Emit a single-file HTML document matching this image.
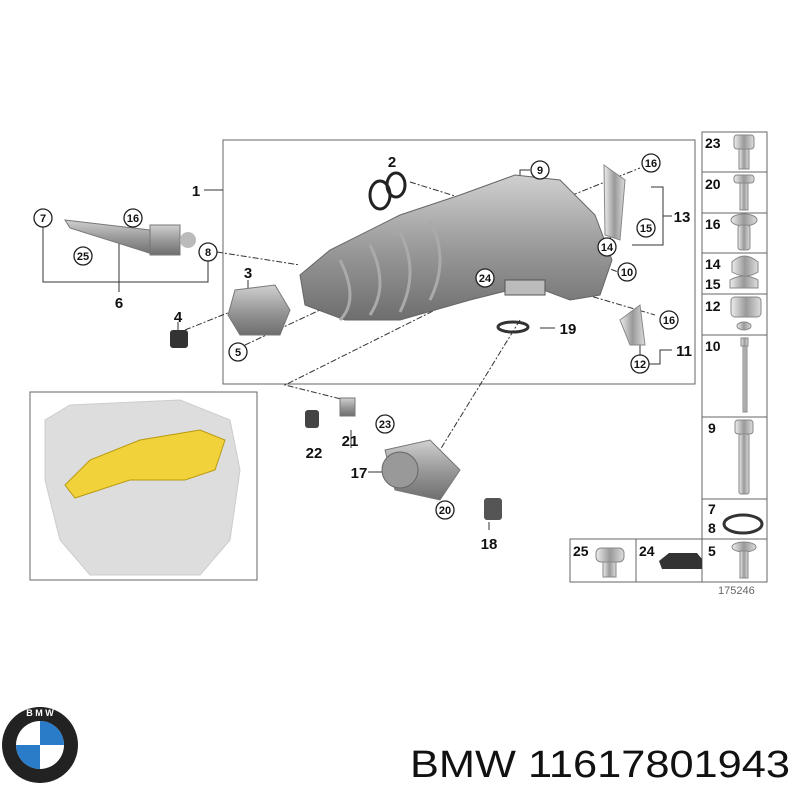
<!DOCTYPE html>
<html><head><style>
html,body{margin:0;padding:0;background:#fff;}
svg{display:block;font-family:"Liberation Sans",Arial,sans-serif;}
.b{font-weight:bold;font-size:15px;fill:#111;}
.c{font-size:11px;font-weight:bold;fill:#111;}
.t{font-weight:bold;font-size:14px;fill:#111;}
</style></head><body>
<svg width="800" height="800" viewBox="0 0 800 800" xmlns="http://www.w3.org/2000/svg">
<defs>
<linearGradient id="g" x1="0" y1="0" x2="0" y2="1"><stop offset="0" stop-color="#d0d0d0"/><stop offset="0.5" stop-color="#9a9a9a"/><stop offset="1" stop-color="#6e6e6e"/></linearGradient>
<linearGradient id="m" x1="0" y1="0" x2="1" y2="0"><stop offset="0" stop-color="#eee"/><stop offset="0.5" stop-color="#999"/><stop offset="1" stop-color="#ddd"/></linearGradient>
</defs>
<g fill="none" stroke="#666" stroke-width="1">
<rect x="223" y="140" width="472" height="244"/>
<rect x="30" y="392" width="227" height="188"/>
<rect x="702" y="132" width="65" height="450"/>
<line x1="702" y1="172" x2="767" y2="172"/><line x1="702" y1="213" x2="767" y2="213"/>
<line x1="702" y1="253" x2="767" y2="253"/><line x1="702" y1="294" x2="767" y2="294"/>
<line x1="702" y1="335" x2="767" y2="335"/><line x1="702" y1="417" x2="767" y2="417"/>
<line x1="702" y1="499" x2="767" y2="499"/><line x1="702" y1="539" x2="767" y2="539"/>
<rect x="570" y="539" width="132" height="43"/><line x1="636" y1="539" x2="636" y2="582"/>
</g>
<text x="705" y="148" class="t">23</text><text x="705" y="189" class="t">20</text><text x="705" y="229" class="t">16</text>
<text x="705" y="269" class="t">14</text><text x="705" y="289" class="t">15</text><text x="705" y="311" class="t">12</text>
<text x="705" y="351" class="t">10</text><text x="708" y="433" class="t">9</text><text x="708" y="514" class="t">7</text>
<text x="708" y="533" class="t">8</text><text x="708" y="556" class="t">5</text><text x="573" y="556" class="t">25</text><text x="639" y="556" class="t">24</text>
<g fill="url(#m)" stroke="#888">
<rect x="734" y="135" width="20" height="14" rx="3"/><rect x="739" y="149" width="10" height="20"/>
<rect x="734" y="175" width="20" height="8" rx="3"/><rect x="740" y="183" width="8" height="27"/>
<ellipse cx="744" cy="220" rx="13" ry="6"/><rect x="738" y="225" width="12" height="25" rx="3"/>
<path d="M732 262 q12-12 26 0 v10 q-12 8-26 0z"/><path d="M730 280 q14-8 28 0 v8 h-28z"/>
<rect x="731" y="297" width="30" height="20" rx="4"/><ellipse cx="744" cy="326" rx="7" ry="4"/>
<rect x="741" y="338" width="7" height="8"/><rect x="743" y="346" width="4" height="66"/>
<rect x="735" y="420" width="18" height="14" rx="3"/><rect x="739" y="434" width="10" height="60" rx="2"/>
<rect x="596" y="548" width="28" height="14" rx="5"/><rect x="603" y="562" width="13" height="15"/>
<ellipse cx="744" cy="547" rx="12" ry="5"/><rect x="740" y="551" width="8" height="27"/>
</g>
<ellipse cx="743" cy="524" rx="19" ry="9" fill="none" stroke="#333" stroke-width="3"/>
<path d="M659 561 l10-8 h28 l5 6 v10 h-40z" fill="#333"/>
<text x="718" y="594" font-size="11" fill="#666">175246</text>
<g stroke="#333" stroke-width="1" fill="none">
<path d="M43 218 V282 H208 V252"/><path d="M119 230 V292"/><path d="M204 190 H223"/>
<path d="M651 187 H663 V245 H632"/><path d="M663 216 H672"/><path d="M640 330 V364 H660 V350 H672"/>
<path d="M530 170 H520 V195"/><path d="M248 280 V290"/><path d="M178 322 V335"/><path d="M540 328 H555"/>
<path d="M351 430 V448"/><path d="M368 472 H383"/><path d="M489 530 V522"/>
</g>
<g stroke="#333" stroke-width="1" fill="none" stroke-dasharray="6,2,2,2">
<path d="M217 252 L300 265"/><path d="M410 182 L500 210"/><path d="M185 330 L235 310"/><path d="M245 345 L320 310"/>
<path d="M485 270 L560 230"/><path d="M600 265 L618 272"/><path d="M570 290 L655 315"/><path d="M560 200 L640 168"/>
<path d="M465 295 L285 385 L345 400"/><path d="M520 320 L440 450"/><path d="M610 240 L615 210"/>
</g>
<path d="M300 275 L330 250 L400 215 L460 195 L515 175 L560 180 L595 215 L612 260 L600 295 L570 300 L530 285 L470 300 L400 320 L345 320 L305 305 Z" fill="url(#g)" stroke="#666"/>
<path d="M340 260 q20 40 0 60 M370 245 q20 40 0 70 M400 232 q20 40 0 80 M430 220 q20 40 0 80" stroke="#aaa" fill="none" stroke-width="3"/>
<path d="M505 280 h40 v15 h-40z" fill="#bbb" stroke="#555"/>
<ellipse cx="396" cy="185" rx="9" ry="12" fill="none" stroke="#222" stroke-width="3"/><ellipse cx="380" cy="195" rx="10" ry="14" fill="none" stroke="#222" stroke-width="3"/>
<ellipse cx="513" cy="327" rx="15" ry="5" fill="none" stroke="#333" stroke-width="3"/>
<path d="M65 220 L150 230 L155 255 L140 250 L70 228 Z" fill="url(#g)" stroke="#777"/>
<rect x="150" y="225" width="30" height="30" fill="url(#g)" stroke="#777"/><circle cx="188" cy="240" r="8" fill="#bbb"/>
<path d="M235 290 L275 285 L290 310 L280 335 L240 335 L228 315 Z" fill="url(#g)" stroke="#777"/>
<rect x="170" y="330" width="18" height="18" rx="3" fill="#333"/>
<path d="M604 165 L625 180 L620 240 L605 235 Z" fill="url(#m)" stroke="#888"/>
<path d="M620 320 L640 305 L645 345 L630 345 Z" fill="url(#m)" stroke="#888"/>
<path d="M340 398 h15 v18 h-15z" fill="url(#g)" stroke="#777"/><rect x="305" y="410" width="14" height="18" rx="3" fill="#444"/>
<path d="M385 450 L430 440 L460 470 L440 500 L395 490 Z" fill="url(#g)" stroke="#777"/><circle cx="400" cy="470" r="18" fill="#999" stroke="#666"/>
<rect x="484" y="498" width="18" height="22" rx="3" fill="#555"/>
<path d="M45 420 L70 405 L180 400 L230 420 L240 470 L230 540 L200 575 L90 575 L60 540 L45 480 Z" fill="#ddd" stroke="#ccc"/>
<path d="M65 485 L90 460 L140 440 L200 430 L225 440 L215 470 L185 480 L130 480 L75 498 Z" fill="#f1d23a" stroke="#b89a10"/>
<g fill="#fff" stroke="#222" stroke-width="1.3">
<circle cx="43" cy="218" r="9"/><circle cx="133" cy="218" r="9"/><circle cx="83" cy="256" r="9"/><circle cx="208" cy="252" r="9"/>
<circle cx="238" cy="352" r="9"/><circle cx="540" cy="170" r="9"/><circle cx="651" cy="163" r="9"/><circle cx="646" cy="228" r="9"/>
<circle cx="607" cy="247" r="9"/><circle cx="485" cy="278" r="9"/><circle cx="627" cy="272" r="9"/><circle cx="669" cy="320" r="9"/>
<circle cx="640" cy="364" r="9"/><circle cx="385" cy="424" r="9"/><circle cx="445" cy="510" r="9"/>
</g>
<g class="c" text-anchor="middle">
<text x="43" y="222">7</text><text x="133" y="222">16</text><text x="83" y="260">25</text><text x="208" y="256">8</text>
<text x="238" y="356">5</text><text x="540" y="174">9</text><text x="651" y="167">16</text><text x="646" y="232">15</text>
<text x="607" y="251">14</text><text x="485" y="282">24</text><text x="627" y="276">10</text><text x="669" y="324">16</text>
<text x="640" y="368">12</text><text x="385" y="428">23</text><text x="445" y="514">20</text>
</g>
<g class="b" text-anchor="middle">
<text x="196" y="196">1</text><text x="392" y="167">2</text><text x="119" y="308">6</text><text x="248" y="278">3</text>
<text x="178" y="322">4</text><text x="682" y="222">13</text><text x="568" y="334">19</text><text x="684" y="356">11</text>
<text x="350" y="446">21</text><text x="314" y="458">22</text><text x="359" y="478">17</text><text x="489" y="549">18</text>
</g>
<circle cx="40" cy="745" r="38" fill="#222"/><circle cx="40" cy="745" r="24" fill="#fff"/>
<path d="M40 721 A24 24 0 0 1 64 745 H40Z M40 769 A24 24 0 0 1 16 745 H40Z" fill="#2a7bc8"/>
<text x="40" y="716" font-size="9" fill="#fff" text-anchor="middle" font-weight="bold">B M W</text>
<text x="410" y="777" font-size="38" fill="#111" textLength="380" lengthAdjust="spacingAndGlyphs">BMW 11617801943</text>
</svg>
</body></html>
